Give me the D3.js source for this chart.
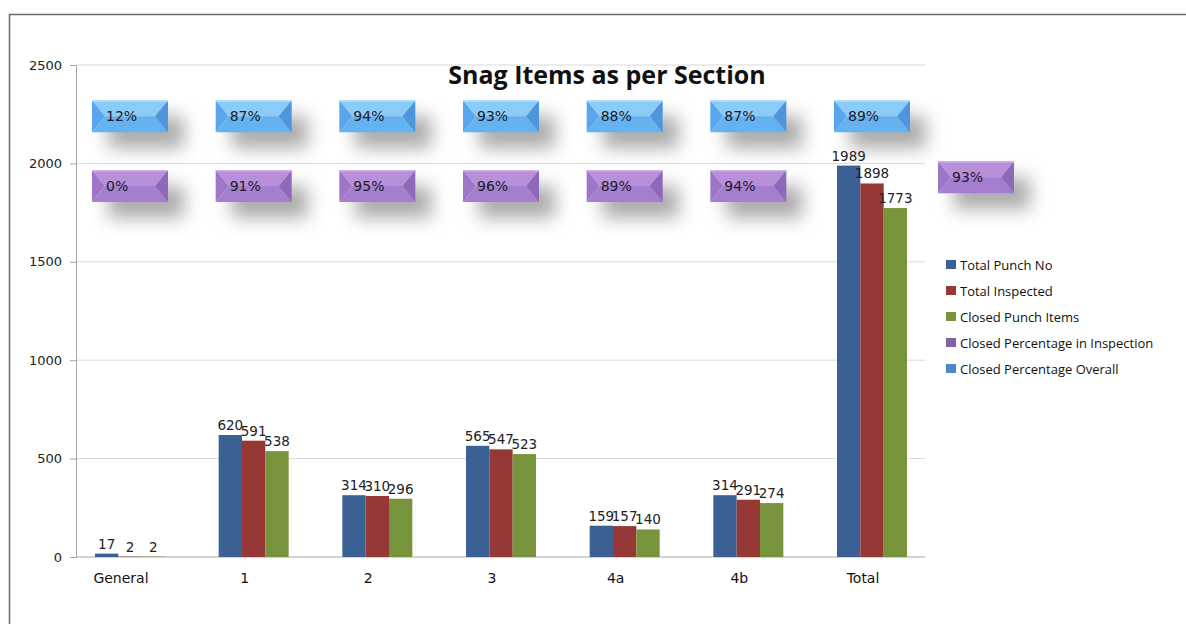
<!DOCTYPE html>
<html>
<head>
<meta charset="utf-8">
<style>
  body { margin: 0; background: #fff; }
  svg { display: block; }
</style>
</head>
<body></body>

<script src='https://d3js.org/d3.v7.min.js'></script>
<script>
    // data
    const categories = ["General", "1", "2", "3", "4a", "4b", "Total"];
    const totalPunch = [17, 620, 314, 565, 159, 314, 1989];
    const totalInspected = [2, 591, 310, 547, 157, 291, 1898];
    const closedPunch = [2, 538, 296, 523, 140, 274, 1773];
    const pctInspection = ["0%", "91%", "95%", "96%", "89%", "94%", "93%"];
    const pctOverall = ["12%", "87%", "94%", "93%", "88%", "87%", "89%"];
    const yTicks = [0, 500, 1000, 1500, 2000, 2500];
    const seriesNames = ["Total Punch No", "Total Inspected", "Closed Punch Items",
        "Closed Percentage in Inspection", "Closed Percentage Overall"];

    const width = 1186;
    const height = 624;
    const barColors = ["#3b6094", "#953836", "#77933c"];
    const legendColors = ["#3b6094", "#953836", "#77933c", "#8064a2", "#4a88cc"];

    const svg = d3.select("body")
        .append("svg")
        .attr("width", width)
        .attr("height", height);

    // soft shadow for the bevelled label boxes
    const defs = svg.append("defs");
    defs.append("filter").attr("id", "blur")
        .attr("x", "-60%").attr("y", "-120%").attr("width", "220%").attr("height", "340%")
        .append("feGaussianBlur").attr("stdDeviation", 9);

    // outer frame (only top and left edges are inside the picture)
    svg.append("path")
        .attr("d", "M9.5,624 V14.5 H1186")
        .attr("fill", "none")
        .attr("stroke", "#6a6a6a")
        .attr("stroke-width", 1.5);

    const y = d3.scaleLinear().domain([0, 2500]).range([557, 65]);
    const x = d3.scalePoint().domain(categories).range([130, 872]);
    const xs = d3.scaleBand().domain([0, 1, 2]).range([-35, 35]);

    // gridlines
    svg.append("g")
        .selectAll("line")
        .data(yTicks.slice(1))
        .join("line")
        .attr("x1", 76).attr("x2", 925)
        .attr("y1", d => y(d)).attr("y2", d => y(d))
        .attr("stroke", "#d9d9d9");

    // y axis
    const yAxis = svg.append("g")
        .attr("transform", "translate(76,0)")
        .call(d3.axisLeft(y).tickValues(yTicks).tickFormat(d3.format("d")).tickSize(6).tickPadding(8));
    yAxis.select(".domain").attr("stroke", "#a6a6a6");
    yAxis.selectAll(".tick line").attr("stroke", "#a6a6a6");
    yAxis.selectAll(".tick text")
        .attr("font-family", "DejaVu Sans")
        .attr("font-size", 13)
        .attr("fill", "#222");

    // x axis line
    svg.append("line")
        .attr("x1", 76).attr("x2", 925)
        .attr("y1", y(0)).attr("y2", y(0))
        .attr("stroke", "#a6a6a6");

    // category labels
    svg.append("g")
        .selectAll("text")
        .data(categories)
        .join("text")
        .attr("x", d => x(d) - 9)
        .attr("y", 583)
        .attr("text-anchor", "middle")
        .attr("font-family", "DejaVu Sans")
        .attr("font-size", 14)
        .attr("fill", "#111")
        .text(d => d);

    // bars
    const series = [totalPunch, totalInspected, closedPunch];
    series.forEach(function (vals, s) {
        const g = svg.append("g");
        g.selectAll("rect")
            .data(vals)
            .join("rect")
            .attr("x", (d, i) => x(categories[i]) + xs(s))
            .attr("y", d => y(d))
            .attr("width", xs.bandwidth())
            .attr("height", d => y(0) - y(d))
            .attr("fill", barColors[s]);
        g.selectAll("text")
            .data(vals)
            .join("text")
            .attr("x", (d, i) => x(categories[i]) + xs(s) + xs.bandwidth() / 2)
            .attr("y", d => y(d) - 5)
            .attr("text-anchor", "middle")
            .attr("font-family", "DejaVu Sans")
            .attr("font-size", 13.5)
            .attr("fill", "#222")
            .text(d => d);
    });

    // bevelled percentage boxes
    const boxW = 76, boxH = 32, bev = 13;
    const palettes = {
        blue: { top: "#8accf7", bottom: "#64b2f0", left: "#5aa6ec", right: "#4d96de", edge: "#b0e2fc" },
        purple: { top: "#b890da", bottom: "#a67ece", left: "#9d76c8", right: "#8e68ba", edge: "#d0aeec" }
    };

    function drawBox(cx, cy, label, pal) {
        const g = svg.append("g")
            .attr("transform", "translate(" + (cx - boxW / 2) + "," + (cy - boxH / 2) + ")");
        const w = boxW, h = boxH, m = h / 2;
        g.append("rect")
            .attr("x", 16).attr("y", 16)
            .attr("width", w).attr("height", h)
            .attr("fill", "#666")
            .attr("opacity", 0.55)
            .attr("filter", "url(#blur)");
        g.append("polygon").attr("points", [[0, 0], [w, 0], [w - bev, m], [bev, m]].join(" ")).attr("fill", pal.top);
        g.append("polygon").attr("points", [[0, h], [w, h], [w - bev, m], [bev, m]].join(" ")).attr("fill", pal.bottom);
        g.append("polygon").attr("points", [[0, 0], [bev, m], [0, h]].join(" ")).attr("fill", pal.left);
        g.append("polygon").attr("points", [[w, 0], [w - bev, m], [w, h]].join(" ")).attr("fill", pal.right);
        g.append("line").attr("x1", 0).attr("x2", w).attr("y1", 0.75).attr("y2", 0.75)
            .attr("stroke", pal.edge).attr("stroke-width", 1.5);
        g.append("text")
            .attr("x", 14)
            .attr("y", m + 5)
            .attr("font-family", "DejaVu Sans")
            .attr("font-size", 14)
            .attr("fill", "#1a1a2a")
            .text(label);
    }

    pctOverall.forEach(function (p, i) {
        drawBox(x(categories[i]), y(2240), p, palettes.blue);
    });
    pctInspection.forEach(function (p, i) {
        // the Total label sits to the right of its bars
        const dx = categories[i] === "Total" ? 104 : 0;
        drawBox(x(categories[i]) + dx, y(i === 6 ? 1930 : 1885), p, palettes.purple);
    });

    // title
    svg.append("text")
        .attr("x", 607)
        .attr("y", 84)
        .attr("text-anchor", "middle")
        .attr("font-family", "Open Sans")
        .attr("font-weight", "bold")
        .attr("font-size", 25)
        .attr("fill", "#111")
        .text("Snag Items as per Section");

    // legend
    const legend = svg.append("g").attr("transform", "translate(946,265)");
    const li = legend.selectAll("g")
        .data(seriesNames)
        .join("g")
        .attr("transform", (d, i) => "translate(0," + i * 26 + ")");
    li.append("rect")
        .attr("x", 0).attr("y", -5)
        .attr("width", 10).attr("height", 9)
        .attr("fill", (d, i) => legendColors[i]);
    li.append("text")
        .attr("x", 14)
        .attr("y", 4.5)
        .attr("font-family", "Open Sans")
        .attr("font-size", 13)
        .attr("fill", "#111")
        .text(d => d);
</script>
</html>
